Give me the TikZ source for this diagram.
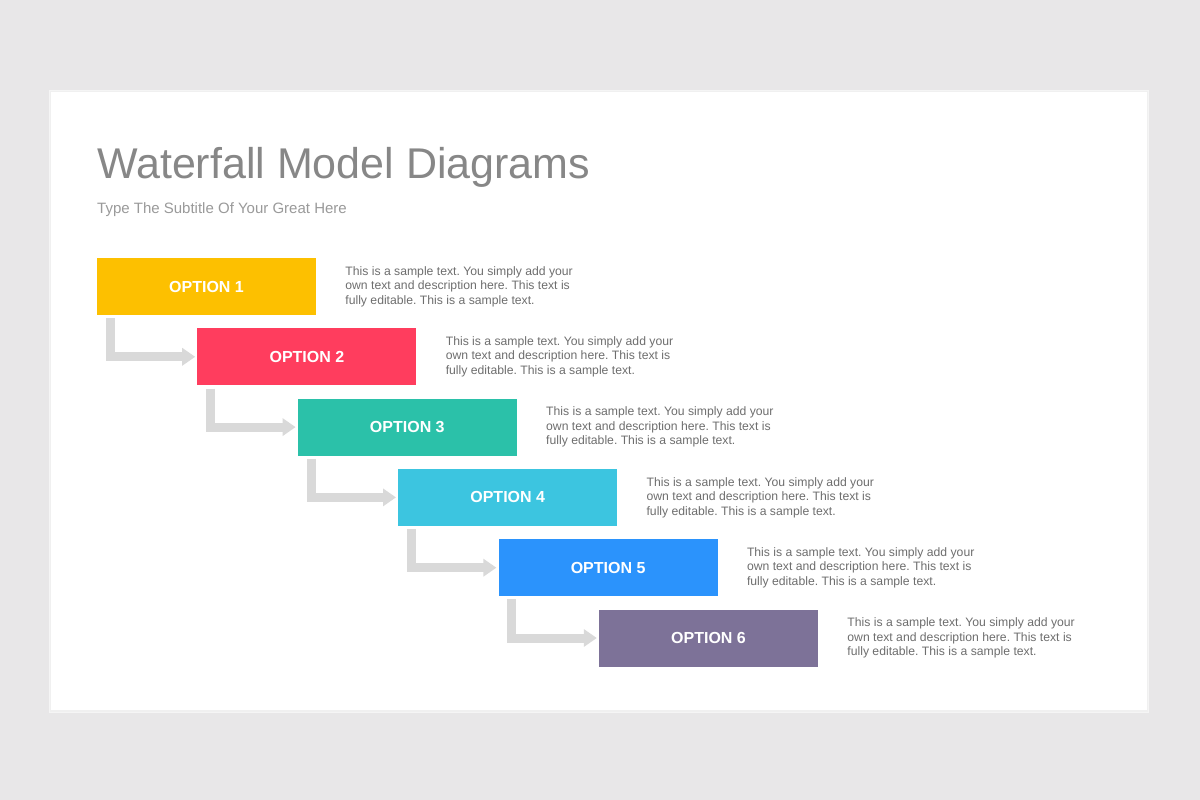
\documentclass[tikz,border=0pt]{standalone}
\usepackage{fontspec}
\setmainfont{Liberation Sans}
\usetikzlibrary{arrows.meta}
\frenchspacing
\definecolor{bgc}{HTML}{E8E7E8}
\definecolor{titlec}{HTML}{878787}
\definecolor{subc}{HTML}{9A9A9A}
\definecolor{descc}{HTML}{6E6E6E}
\definecolor{arrc}{HTML}{D9D9D9}
\definecolor{c1}{HTML}{FDC000}
\definecolor{c2}{HTML}{FF3D5E}
\definecolor{c3}{HTML}{2BC1A9}
\definecolor{c4}{HTML}{3CC5E0}
\definecolor{c5}{HTML}{2B93FC}
\definecolor{c6}{HTML}{7D7298}
\tikzset{
  optbox/.style={rectangle, minimum width=219pt, minimum height=57pt, inner sep=0pt,
    text=white, font=\fontsize{16}{19}\selectfont\bfseries},
  desc/.style={anchor=west, align=left, inner sep=0pt, text=descc,
    font=\fontsize{12.2}{14.5}\selectfont},
  conn/.style={draw=arrc, line width=9pt, line join=miter, line cap=butt,
    -{Triangle[length=13pt,width=17pt]}},
}
\begin{document}
\begin{tikzpicture}[x=1pt,y=-1pt]
\useasboundingbox (0,0) rectangle (1200,800);
\fill[bgc] (0,0) rectangle (1200,800);
\fill[black!4] (49,90) rectangle (1149,713);
\fill[black!6] (50,91) rectangle (1148,711.5);
\fill[white] (51,92) rectangle (1147,710);
\node[anchor=base west, inner sep=0pt, text=titlec, font=\fontsize{43}{50}\selectfont] (title) at (97,178) {Waterfall Model Diagrams};
\node[anchor=base west, inner sep=0pt, text=subc, font=\fontsize{15}{17}\selectfont] (sub) at (97,213) {Type The Subtitle Of Your Great Here};
\foreach \i/\c in {1/c1,2/c2,3/c3,4/c4,5/c5,6/c6}{
  \node[optbox, fill=\c] (b\i) at ({206.5+100.4*(\i-1)},{286.5+70.3*(\i-1)}) {OPTION \i};
  \node[desc] (d\i) at ([xshift=29pt]b\i.east) {This is a sample text. You simply add your\\own text and description here. This text is\\fully editable. This is a sample text.};
}
\foreach \i [evaluate=\i as \j using int(\i+1)] in {1,...,5}{
  \draw[conn] ([xshift=13.5pt,yshift=-3pt]b\i.south west) |- ([xshift=-2pt]b\j.west);
}
\end{tikzpicture}
\end{document}
